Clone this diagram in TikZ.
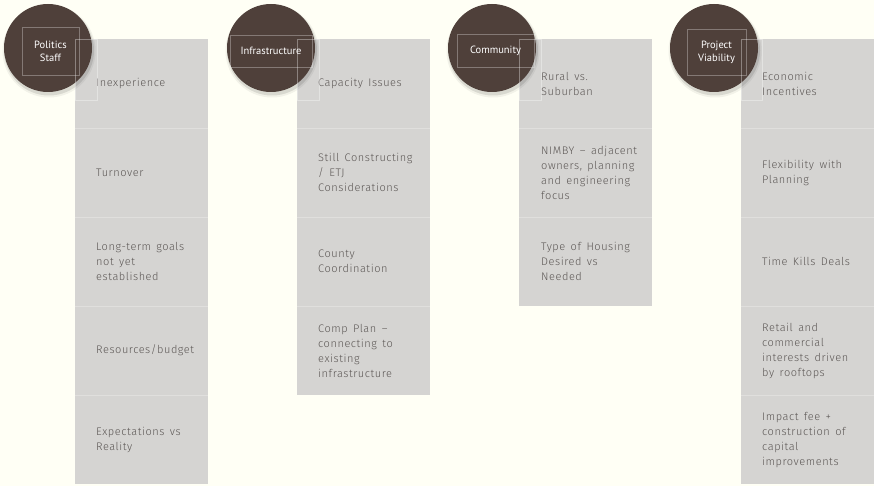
\documentclass[tikz,border=0pt]{standalone}
\usepackage{fontspec}
\newfontfamily\boxfont{Fira Sans}[UprightFont={* Light}, LetterSpace=5, WordSpace=1.5]
\newfontfamily\hubfont{PT Sans}
\definecolor{bgcream}{RGB}{255,255,245}
\definecolor{cellgray}{RGB}{213,212,210}
\definecolor{sepgray}{RGB}{224,223,221}
\definecolor{hubbrown}{RGB}{79,64,58}
\definecolor{txtgray}{RGB}{92,87,85}
\tikzset{
  cellbox/.style={fill=cellgray, draw=none, minimum width=133pt, minimum height=89pt, anchor=north west, inner sep=0pt},
  celltext/.style={anchor=west, align=left, font=\boxfont\fontsize{11}{15}\selectfont, text=txtgray, inner sep=0pt},
  hub/.style={circle, fill=hubbrown, minimum size=88pt, inner sep=0pt},
  hubshade/.style={circle, fill=black, draw=none, inner sep=0pt},
  hublabel/.style={font=\hubfont\fontsize{10.5}{13}\selectfont, text=white, align=center,
    draw=white, draw opacity=0.3, line width=0.6pt, inner sep=0pt},
  frame/.style={draw=white, draw opacity=0.35, line width=0.6pt},
  sepline/.style={draw=sepgray, line width=0.6pt},
}
\begin{document}
\begin{tikzpicture}[x=1pt,y=-1pt]
\fill[bgcream] (0,0) rectangle (874,486);
\useasboundingbox (0,0) rectangle (874,486);

% ---------- column 1
\node[cellbox] (c11) at (75,39) {};
\node[cellbox] (c12) at (75,128) {};
\node[cellbox] (c13) at (75,217) {};
\node[cellbox] (c14) at (75,306) {};
\node[cellbox] (c15) at (75,395) {};
% ---------- column 2
\node[cellbox] (c21) at (297,39) {};
\node[cellbox] (c22) at (297,128) {};
\node[cellbox] (c23) at (297,217) {};
\node[cellbox] (c24) at (297,306) {};
% ---------- column 3
\node[cellbox] (c31) at (519,39) {};
\node[cellbox] (c32) at (519,128) {};
\node[cellbox] (c33) at (519,217) {};
% ---------- column 4
\node[cellbox] (c41) at (741,39) {};
\node[cellbox] (c42) at (741,128) {};
\node[cellbox] (c43) at (741,217) {};
\node[cellbox] (c44) at (741,306) {};
\node[cellbox] (c45) at (741,395) {};

% separators
\foreach \c in {c11,c12,c13,c14,c21,c22,c23,c31,c32,c41,c42,c43,c44}
  \draw[sepline] (\c.south west) -- (\c.south east);

% texts column 1
\node[celltext] (t11) at ([xshift=21pt]c11.west) {Inexperience};
\node[celltext] (t12) at ([xshift=21pt]c12.west) {Turnover};
\node[celltext] (t13) at ([xshift=21pt]c13.west) {Long-term goals\\not yet\\established};
\node[celltext] (t14) at ([xshift=21pt]c14.west) {Resources/budget};
\node[celltext] (t15) at ([xshift=21pt]c15.west) {Expectations vs\\Reality};
% texts column 2
\node[celltext] (t21) at ([xshift=21pt]c21.west) {Capacity Issues};
\node[celltext] (t22) at ([xshift=21pt]c22.west) {Still Constructing\\/ ETJ\\Considerations};
\node[celltext] (t23) at ([xshift=21pt]c23.west) {County\\Coordination};
\node[celltext] (t24) at ([xshift=21pt]c24.west) {Comp Plan –\\connecting to\\existing\\infrastructure};
% texts column 3
\node[celltext] (t31) at ([xshift=22pt]c31.west) {Rural vs.\\Suburban};
\node[celltext] (t32) at ([xshift=22pt]c32.west) {NIMBY – adjacent\\owners, planning\\and engineering\\focus};
\node[celltext] (t33) at ([xshift=22pt]c33.west) {Type of Housing\\Desired vs\\Needed};
% texts column 4
\node[celltext] (t41) at ([xshift=21pt]c41.west) {Economic\\Incentives};
\node[celltext] (t42) at ([xshift=21pt]c42.west) {Flexibility with\\Planning};
\node[celltext] (t43) at ([xshift=21pt]c43.west) {Time Kills Deals};
\node[celltext] (t44) at ([xshift=21pt]c44.west) {Retail and\\commercial\\interests driven\\by rooftops};
\node[celltext] (t45) at ([xshift=21pt]c45.west) {Impact fee +\\construction of\\capital\\improvements};

% hub shadows
\foreach \x/\n in {48/1,271/2,492/3,714/4}{
  \node[hubshade, minimum size=93pt, fill opacity=0.05] (s\n a) at (\x+1,51) {};
  \node[hubshade, minimum size=90pt, fill opacity=0.10] (s\n b) at (\x+1,50.5) {};
}
% hubs
\node[hub] (h1) at (48,48) {};
\node[hub] (h2) at (271,48) {};
\node[hub] (h3) at (492,48) {};
\node[hub] (h4) at (714,48) {};

% small frames
\draw[frame] (75,39) rectangle (97,100);
\draw[frame] (297,39) rectangle (319,100);
\draw[frame] (519,39) rectangle (541,100);
\draw[frame] (741,39) rectangle (762,100);

% hub labels
\node[hublabel, minimum width=57pt, minimum height=48pt] (l1) at (50.5,51) {Politics\\Staff};
\node[hublabel, minimum width=82pt, minimum height=32pt] (l2) at (271,51) {Infrastructure};
\node[hublabel, minimum width=77pt, minimum height=33pt] (l3) at (495.5,50.5) {Community};
\node[hublabel, minimum width=59pt, minimum height=46pt] (l4) at (716.5,52) {Project\\Viability};
\end{tikzpicture}
\end{document}
